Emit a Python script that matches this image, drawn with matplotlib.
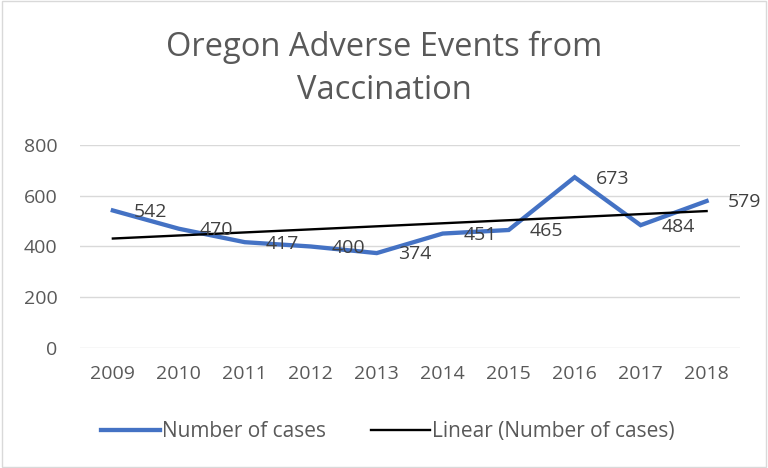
import numpy as np
import matplotlib
matplotlib.use('Agg')
import matplotlib.pyplot as plt
from matplotlib.patches import Rectangle

plt.rcParams['font.family'] = ['Open Sans', 'DejaVu Sans']

years = [2009, 2010, 2011, 2012, 2013, 2014, 2015, 2016, 2017, 2018]
cases = [542, 470, 417, 400, 374, 451, 465, 673, 484, 579]
y_ticks = [0, 200, 400, 600, 800]

fig = plt.figure(figsize=(7.68, 4.68), dpi=100)
fig.patches.append(Rectangle((0.002, 0.002), 0.996, 0.996, transform=fig.transFigure,
                             fill=False, edgecolor='#d9d9d9', linewidth=1))
ax = fig.add_axes([0.104, 0.2564, 0.859, 0.4338])

# linear trend, like Excel's trendline
x = np.arange(len(years))
slope, intercept = np.polyfit(x, cases, 1)
trend = slope * x + intercept

line_cases, = ax.plot(years, cases, color='#4472C4', linewidth=3.1,
                      solid_joinstyle='miter', label='Number of cases', zorder=3)
line_trend, = ax.plot(years, trend, color='black', linewidth=1.7,
                      label='Linear (Number of cases)', zorder=4)

for yr, v in zip(years, cases):
    ax.annotate(str(v), (yr, v), xytext=(15, -1), textcoords='offset points',
                ha='left', va='center', fontsize=14, color='#404040', zorder=5)

ax.set_xlim(2008.5, 2018.5)
ax.set_ylim(0, 800)
ax.set_yticks(y_ticks)
ax.set_xticks(years)
ax.grid(axis='y', color='#d9d9d9', linewidth=1)
ax.set_axisbelow(True)
for s in ax.spines.values():
    s.set_visible(False)
ax.tick_params(length=0, labelsize=14, colors='#595959')
ax.tick_params(axis='x', pad=12)
ax.tick_params(axis='y', pad=16)

fig.text(0.5, 0.853, 'Oregon Adverse Events from\nVaccination', ha='center', va='center',
         fontsize=23.5, color='#595959', linespacing=1.4)

fig.legend(handles=[line_cases, line_trend], loc='center', bbox_to_anchor=(0.505, 0.077),
           ncol=2, frameon=False, fontsize=15, labelcolor='#595959',
           handlelength=2.8, handletextpad=0.1, columnspacing=2.2)

fig.savefig('out.png', dpi=100)
